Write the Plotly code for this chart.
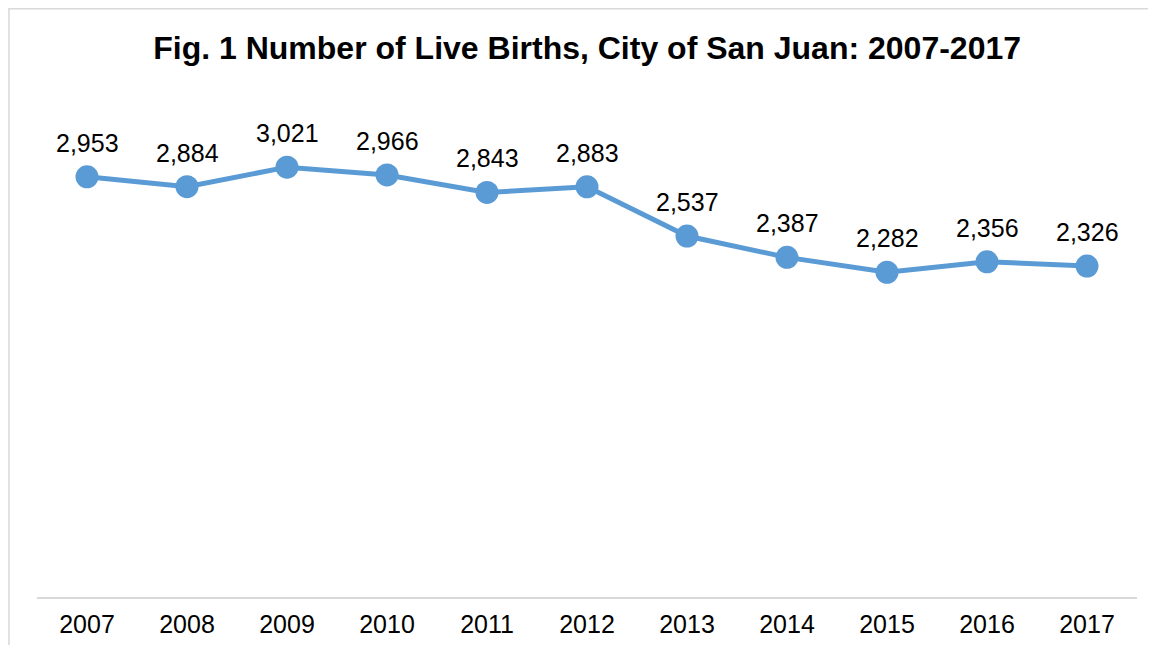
import plotly.graph_objects as go

# Live births per year, City of San Juan
years = ["2007", "2008", "2009", "2010", "2011", "2012", "2013", "2014", "2015", "2016", "2017"]
births = [2953, 2884, 3021, 2966, 2843, 2883, 2537, 2387, 2282, 2356, 2326]

blue = "#5B9BD5"
grey = "#D9D9D9"

fig = go.Figure()
fig.add_trace(go.Scatter(
    x=years, y=births, mode="lines+markers",
    line=dict(color=blue, width=5),
    marker=dict(color=blue, size=23),
    hoverinfo="x+y", showlegend=False,
))

# Data labels above each point (category axis -> use the category index)
for i, val in enumerate(births):
    fig.add_annotation(x=i, y=val, xref="x", yref="y", text=f"{val:,}",
                       showarrow=False, yshift=34,
                       font=dict(size=25, color="#000000"))

# Chart frame (cropped at right/bottom like the source)
fig.add_shape(type="rect", xref="paper", yref="paper",
              x0=-0.0255, x1=1.1, y0=-0.3, y1=1.181,
              line=dict(color=grey, width=1.5), layer="below")

fig.update_layout(
    width=1156, height=645,
    margin=dict(l=29, r=27, t=91, b=56),
    paper_bgcolor="white", plot_bgcolor="white",
    font=dict(family="Liberation Sans, Arial, sans-serif", color="#000000"),
    title=dict(text="<b>Fig. 1 Number of Live Births, City of San Juan: 2007-2017</b>",
               x=0.501, xanchor="center", y=0.938, yanchor="middle",
               font=dict(size=32, color="#000000")),
    xaxis=dict(type="category", range=[-0.5, 10.5], showgrid=False,
               showline=True, linecolor=grey, linewidth=1.5, ticks="",
               tickfont=dict(size=25), zeroline=False, ticklabelstandoff=4),
    yaxis=dict(range=[0, 3500], showticklabels=False, showline=False,
               showgrid=False, zeroline=False, ticks=""),
)

fig.write_html("out.html")
